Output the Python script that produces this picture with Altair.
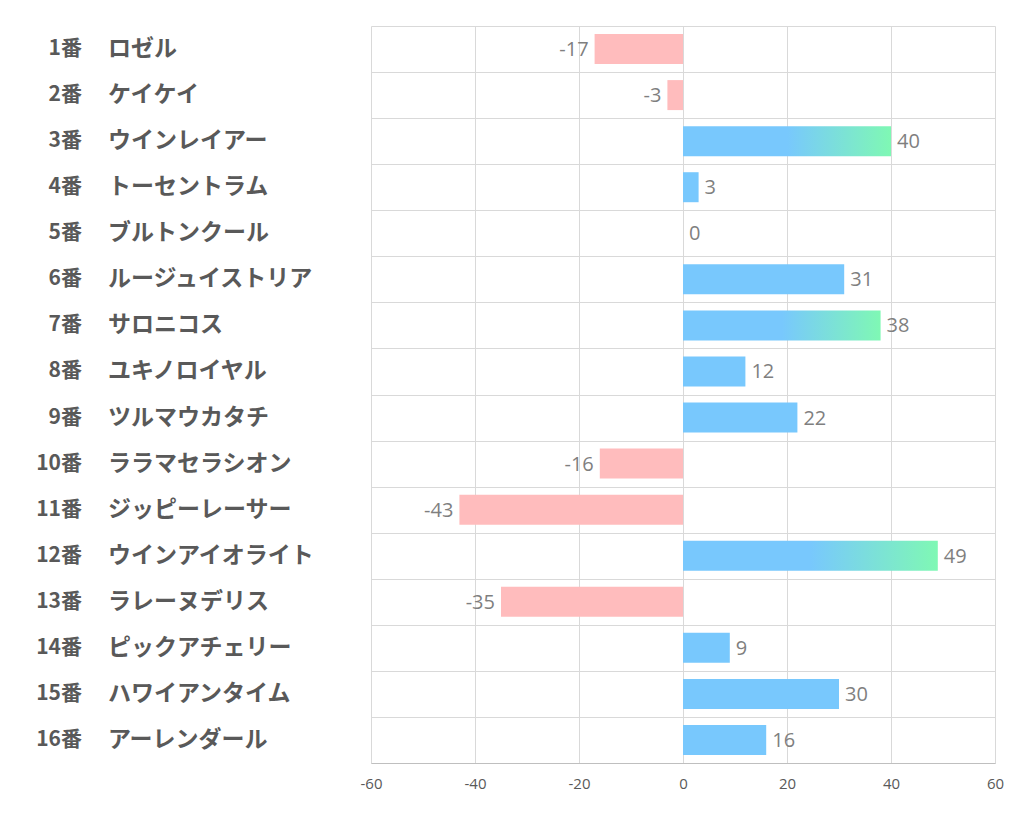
import altair as alt
import pandas as pd

nums = [f"{i}番" for i in range(1, 17)]
names = ["ロゼル", "ケイケイ", "ウインレイアー", "トーセントラム", "ブルトンクール",
         "ルージュイストリア", "サロニコス", "ユキノロイヤル", "ツルマウカタチ",
         "ララマセラシオン", "ジッピーレーサー", "ウインアイオライト", "ラレーヌデリス",
         "ピックアチェリー", "ハワイアンタイム", "アーレンダール"]
values = [-17, -3, 40, 3, 0, 31, 38, 12, 22, -16, -43, 49, -35, 9, 30, 16]
x_ticks = [-60, -40, -20, 0, 20, 40, 60]

df = pd.DataFrame({"num": nums, "name": names, "v": values})
df["lbl"] = [str(v) for v in values]

BLUE = "#78c8fd"
GREEN = "#7ff8b4"
PINK = "#ffbcbd"
TXT = "#595959"
FONT_JP = "Noto Sans CJK JP"

y = alt.Y("num:N", sort=nums,
          scale=alt.Scale(paddingInner=0, paddingOuter=0),
          axis=alt.Axis(labels=False, ticks=False, domain=False, grid=True,
                        tickBand="extent", gridColor="#d9d9d9", title=None))
x = alt.X("v:Q", scale=alt.Scale(domain=[-60, 60], nice=False),
          axis=alt.Axis(values=x_ticks, title=None, ticks=False, grid=True,
                        gridColor="#d9d9d9", domainColor="#bfbfbf",
                        labelColor=TXT, labelFontSize=15, labelPadding=13,
                        labelFont="Open Sans", labelFlush=False,
                        labelExpr="replace(datum.label, '\u2212', '-')"))

base = alt.Chart(df).encode(y=y)

neg_bars = base.transform_filter("datum.v < 0").mark_bar(size=30, color=PINK).encode(x=x, x2=alt.datum(0))
pos_bars = base.transform_filter("datum.v >= 0 && datum.v < 35").mark_bar(size=30, color=BLUE).encode(x=x, x2=alt.datum(0))
grad = alt.LinearGradient(gradient="linear", x1=0, x2=1, y1=0, y2=0,
                          stops=[alt.GradientStop(offset=0, color=BLUE),
                                 alt.GradientStop(offset=0.5, color=BLUE),
                                 alt.GradientStop(offset=1, color=GREEN)])
grad_bars = base.transform_filter("datum.v >= 35").mark_bar(size=30, color=grad).encode(x=x, x2=alt.datum(0))

pos_text = base.transform_filter("datum.v >= 0").mark_text(
    align="left", baseline="middle", dx=6, dy=1, fontSize=20, color="#7f7f7f", font="Open Sans"
).encode(x=alt.X("v:Q"), text="lbl:N")
neg_text = base.transform_filter("datum.v < 0").mark_text(
    align="right", baseline="middle", dx=-6, dy=1, fontSize=20, color="#7f7f7f", font="Open Sans"
).encode(x=alt.X("v:Q"), text="lbl:N")

num_text = base.mark_text(align="right", baseline="middle", fontSize=21, fontWeight="bold",
                          color=TXT, font=FONT_JP).encode(x=alt.value(-289), text="num:N")
name_text = base.mark_text(align="left", baseline="middle", fontSize=23, fontWeight="bold",
                           color=TXT, font=FONT_JP).encode(x=alt.value(-263), text="name:N")

chart = alt.layer(neg_bars, pos_bars, grad_bars, pos_text, neg_text, num_text, name_text).properties(
    width=624, height=737,
    autosize=alt.AutoSizeParams(type="none"),
    padding={"left": 363, "top": 18, "right": 19, "bottom": 55},
).configure_view(strokeWidth=0)

chart.save("out.html", embed_options={"renderer": "svg", "actions": False})
